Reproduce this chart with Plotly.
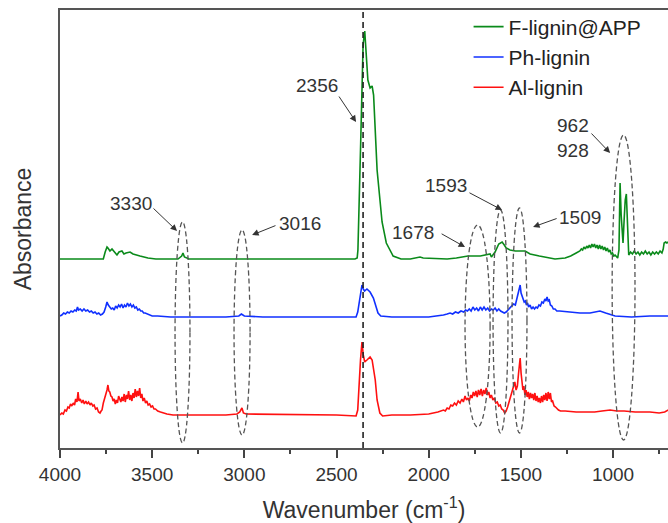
import plotly.graph_objects as go

# ---------------- data (wavenumber cm-1, absorbance a.u. incl. offset) ----------------
green_pts = [
    (4000,189),(3900,189),(3800,189),(3765,189),(3755,196),(3745,201),(3740,200),(3729,197),(3718,199),
    (3702,195),(3691,193),(3680,196),(3664,197),(3653,194),(3642,195),(3620,196),(3604,194),(3566,192),
    (3523,190),(3480,189),(3360,189),(3340,192),(3333,195),(3325,191),(3300,189),(3000,189),(2500,189),
    (2400,189),(2388,190),(2384,198),(2369,305),(2356,403),(2347,417),(2338,385),(2330,368),(2318,360),
    (2307,362),(2299,353),(2280,278),(2253,226),(2230,205),(2193,192),(2150,189),(2100,189),(2047,191),
    (2030,190),(1900,189),(1850,190),(1787,192),(1720,192),(1667,194),(1660,191),(1640,196),(1620,204),
    (1602,206),(1590,203),(1580,200),(1559,198),(1530,197),(1477,197),(1450,194),(1400,192),(1315,189),
    (1260,190),(1230,192),(1200,195),(1190,196),(1180,197),(1172,199),(1165,198),(1158,201),(1150,199),
    (1143,202),(1136,200),(1129,203),(1122,200),(1115,204),(1108,201),(1101,204),(1094,200),(1087,203),
    (1080,199),(1073,203),(1066,199),(1059,202),(1052,198),(1045,201),(1038,197),(1031,200),(1024,196),
    (1017,198),(1010,194),(1003,195),(996,192),(989,193),(982,191),(975,190),(968,198),(962,265),
    (956,233),(946,205),(940,228),(934,248),(928,254),(922,218),(915,193),(905,196),(895,194),(885,197),
    (875,194),(865,196),(855,193),(845,196),(835,194),(825,197),(815,194),(805,196),(795,193),(785,196),
    (775,194),(765,196),(755,194),(745,197),(735,195),(728,199),(723,205),(715,206),(708,205),(700,206),
]

blue_pts = [
    (4000,132),(3990,133),(3980,135),(3970,134),(3960,136),(3950,135),(3940,137),(3930,136),(3920,138),
    (3912,137),(3905,141),(3900,138),(3890,139),(3880,137),(3870,139),(3860,137),(3850,138),(3840,136),
    (3830,137),(3820,135),(3810,136),(3800,134),(3790,135),(3780,133),(3770,134),(3761,136),(3752,141),
    (3745,146),(3738,143),(3730,141),(3722,139),(3714,140),(3706,138),(3698,142),(3690,140),(3682,143),
    (3674,141),(3666,144),(3658,140),(3650,143),(3642,141),(3634,145),(3626,142),(3618,144),(3610,141),
    (3602,143),(3594,140),(3586,141),(3578,138),(3570,139),(3562,137),(3554,137),(3546,135),(3538,135),
    (3528,134),(3515,133),(3500,132),(3470,132),(3400,131),(3100,131),(3030,132),(3016,134),(3000,132),
    (2900,131),(2500,131),(2394,131),(2385,136),(2370,153),(2362,163),(2355,159),(2348,157),(2335,159),
    (2318,156),(2300,150),(2288,142),(2275,135),(2260,132),(2200,131),(2000,131),(1950,132),(1920,133),
    (1900,134),(1884,135),(1870,134),(1855,136),(1840,135),(1825,137),(1810,136),(1800,138),(1790,137),
    (1780,139),(1770,137),(1760,141),(1750,138),(1740,140),(1730,137),(1720,141),(1710,138),(1700,141),
    (1690,138),(1680,140),(1670,137),(1660,139),(1650,138),(1640,140),(1630,137),(1620,139),(1610,137),
    (1600,136),(1590,135),(1580,136),(1570,138),(1560,140),(1550,141),(1540,144),(1530,143),(1522,149),
    (1515,153),(1509,158),(1504,163),(1499,155),(1494,152),(1488,150),(1482,146),(1476,147),(1470,143),
    (1464,145),(1458,141),(1450,143),(1442,139),(1434,141),(1426,139),(1418,141),(1410,140),(1402,143),
    (1394,142),(1386,146),(1378,145),(1370,149),(1364,147),(1358,151),(1352,147),(1346,148),(1340,143),
    (1332,142),(1324,139),(1315,139),(1305,137),(1290,137),(1233,136),(1180,135),(1125,135),(1090,136),
    (1071,137),(1040,135),(989,132),(900,131),(800,132),(700,132),
]

red_pts = [
    (4000,33),(3990,35),(3982,34),(3973,38),(3965,37),(3957,41),(3950,40),(3943,44),(3936,42),(3928,45),
    (3921,43),(3915,49),(3908,46),(3902,56),(3897,47),(3890,49),(3882,45),(3875,48),(3868,44),(3860,47),
    (3853,44),(3845,46),(3837,43),(3830,45),(3822,42),(3815,43),(3807,39),(3799,40),(3791,36),(3783,35),
    (3777,37),(3772,38),(3765,45),(3758,49),(3751,53),(3745,58),(3740,63),(3735,57),(3730,56),(3724,52),
    (3718,51),(3712,47),(3706,49),(3700,44),(3694,48),(3688,45),(3682,52),(3676,49),(3670,46),(3664,51),
    (3658,47),(3652,54),(3646,46),(3640,53),(3634,49),(3628,57),(3622,48),(3616,53),(3610,47),(3604,55),
    (3598,50),(3592,59),(3586,51),(3580,57),(3574,52),(3568,60),(3562,50),(3556,54),(3550,47),(3543,50),
    (3536,45),(3529,47),(3522,43),(3514,44),(3506,41),(3498,42),(3490,39),(3482,39),(3470,37),(3455,36),
    (3440,35),(3420,34),(3387,33),(3100,33),(3040,34),(3025,36),(3013,40),(3005,35),(2990,34),(2500,33),
    (2394,32),(2385,38),(2370,88),(2362,106),(2355,93),(2347,86),(2335,88),(2318,91),(2307,88),(2290,68),
    (2280,48),(2265,35),(2250,32),(2200,33),(2100,33),(2000,34),(1950,36),(1935,37),(1920,38),(1910,37),
    (1900,40),(1890,39),(1880,43),(1870,42),(1860,45),(1850,43),(1840,47),(1830,45),(1820,49),(1812,46),
    (1803,52),(1795,48),(1787,50),(1780,47),(1772,53),(1765,50),(1758,56),(1751,52),(1744,57),(1737,51),
    (1730,58),(1723,53),(1716,59),(1709,52),(1702,58),(1695,54),(1688,60),(1681,53),(1674,56),(1667,50),
    (1660,53),(1652,48),(1644,50),(1636,45),(1628,46),(1620,42),(1612,43),(1604,39),(1596,38),(1588,35),
    (1580,37),(1572,41),(1564,46),(1556,50),(1548,56),(1540,60),(1533,66),(1526,58),(1519,62),(1513,74),
    (1508,82),(1504,90),(1499,75),(1494,68),(1489,58),(1484,62),(1478,53),(1472,58),(1466,51),(1460,56),
    (1454,49),(1448,55),(1442,50),(1436,54),(1430,48),(1424,55),(1418,47),(1412,52),(1406,46),(1400,50),
    (1394,45),(1388,52),(1382,46),(1376,53),(1370,48),(1364,55),(1358,47),(1352,56),(1346,49),(1340,55),
    (1334,46),(1328,47),(1320,42),(1312,41),(1304,39),(1296,38),(1285,37),(1260,37),(1200,36),(1100,36),
    (1060,37),(1016,38),(980,37),(940,37),(880,36),(800,36),(750,35),(720,36),(700,38),
]

series_names = ["F-lignin@APP", "Ph-lignin", "Al-lignin"]
x_ticks = [4000, 3500, 3000, 2500, 2000, 1500, 1000]

# peak labels: (text, x, y)
peak_labels = [("3330", 3615, 245), ("3016", 2698, 225), ("2356", 2606, 363),
               ("1678", 2085, 216), ("1593", 1906, 263), ("1509", 1179, 231),
               ("962", 1217, 323), ("928", 1217, 298)]
# arrows: (tail x, tail y, head x, head y)
arrows = [(3501, 241, 3365, 217), (2823, 223, 2958, 213), (2492, 353, 2394, 326),
          (1938, 215, 1803, 201), (1787, 256, 1602, 238), (1298, 230, 1434, 221),
          (1125, 316, 1016, 295)]
# dashed ellipses: (x0, x1, y0, y1)
ellipses = [(3376, 3295, 5, 226), (3056, 2969, 13, 218), (1803, 1667, 21, 223),
            (1651, 1570, 15, 238), (1548, 1467, 15, 240), (1005, 881, 8, 313)]
marker_line = 2356

# ---------------- figure ----------------
FONT = "Arial, Liberation Sans, sans-serif"
colors = ["#0a8a1a", "#1030ff", "#ff1010"]
fig = go.Figure()
for name, pts, col in zip(series_names, [green_pts, blue_pts, red_pts], colors):
    fig.add_trace(go.Scatter(x=[p[0] for p in pts], y=[p[1] for p in pts], mode="lines",
                             name=name, line=dict(color=col, width=1.6)))

shapes = [dict(type="line", xref="x", yref="paper", x0=marker_line, x1=marker_line, y0=0, y1=1,
               line=dict(color="#222", width=1.6, dash="6px,4px"))]
for x0, x1, y0, y1 in ellipses:
    shapes.append(dict(type="circle", xref="x", yref="y", x0=x0, x1=x1, y0=y0, y1=y1,
                       line=dict(color="#555", width=1.3, dash="5px,3px")))

annots = []
for t, x, y in peak_labels:
    annots.append(dict(x=x, y=y, xref="x", yref="y", text=t, showarrow=False,
                       font=dict(family=FONT, size=19, color="#333")))
for tx, ty, hx, hy in arrows:
    annots.append(dict(x=hx, y=hy, ax=tx, ay=ty, xref="x", yref="y", axref="x", ayref="y",
                       text="", showarrow=True, arrowhead=2, arrowsize=1.3, arrowwidth=1,
                       arrowcolor="#333"))

fig.update_layout(
    width=668, height=523,
    margin=dict(l=60, r=0, t=10, b=75),
    paper_bgcolor="white", plot_bgcolor="white",
    font=dict(family=FONT, color="#222"),
    shapes=shapes, annotations=annots,
    showlegend=True,
    legend=dict(x=0.672, y=1.008, xanchor="left", yanchor="top", bgcolor="rgba(0,0,0,0)",
                font=dict(family=FONT, size=21, color="#222"), traceorder="normal",
                tracegroupgap=0, itemwidth=30),
)
fig.update_xaxes(range=[4000, 702], tickmode="array", tickvals=x_ticks,
                 ticks="outside", ticklen=8, tickwidth=2, tickcolor="#444",
                 showline=True, linewidth=2, linecolor="#555", mirror=True,
                 showgrid=False, zeroline=False,
                 minor=dict(ticks="outside", ticklen=4, tickwidth=1.5, tickcolor="#444", dtick=250, showgrid=False),
                 tickfont=dict(family=FONT, size=19, color="#333"),
                 title=dict(text="Wavenumber (cm<sup>-1</sup>)", font=dict(family=FONT, size=23, color="#333"), standoff=19))
fig.update_yaxes(range=[0, 438], showticklabels=False, ticks="", showline=True, linewidth=2,
                 linecolor="#555", showgrid=False, zeroline=False,
                 title=dict(text="Absorbance", font=dict(family=FONT, size=23, color="#333"), standoff=20))

fig.write_html("out.html")
